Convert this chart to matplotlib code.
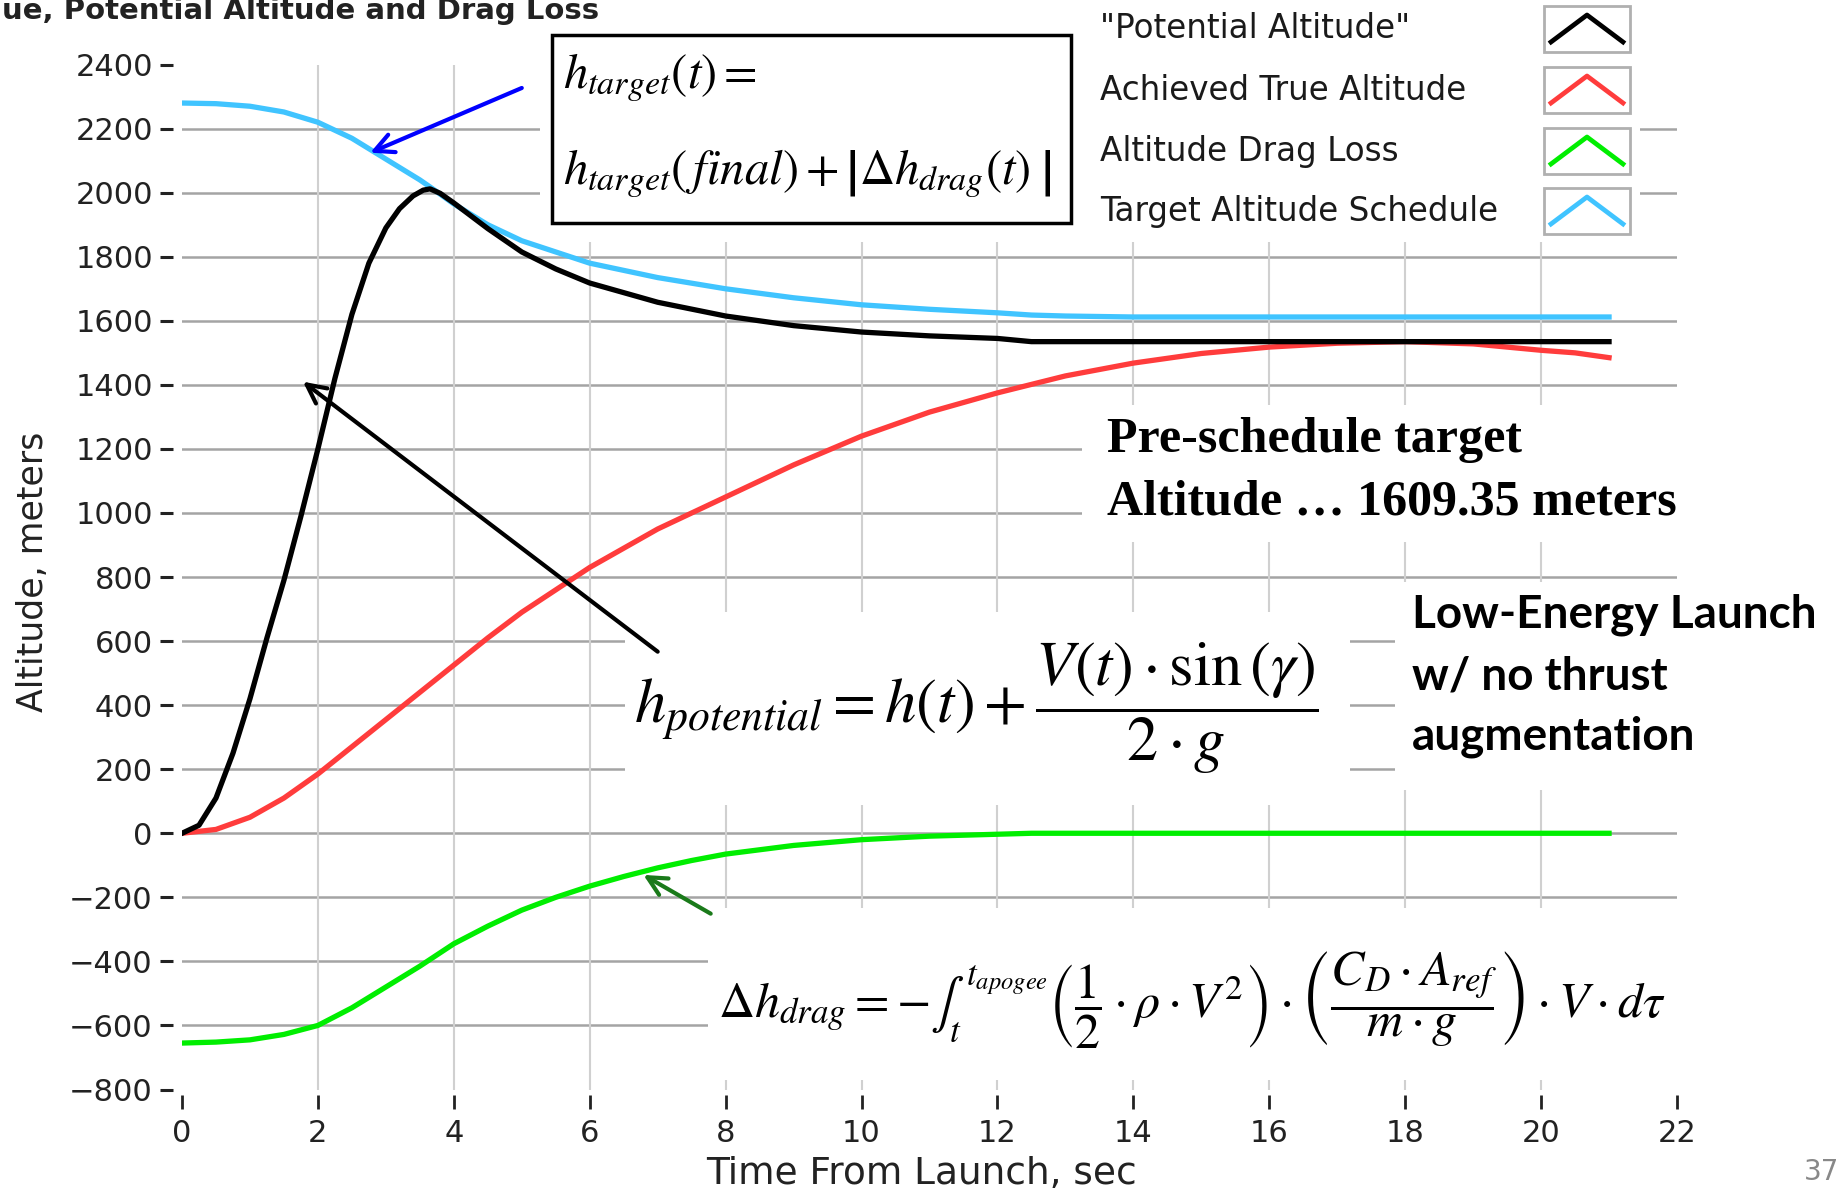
import matplotlib.pyplot as plt
from matplotlib.patches import Rectangle
from matplotlib.lines import Line2D

plt.rcParams['mathtext.fontset'] = 'stix'

W, H = 1841, 1194

# --- data (time in s, altitude in m) ---
t_potential = [0, 0.25, 0.5, 0.75, 1.0, 1.25, 1.5, 1.75, 2.0, 2.25, 2.5, 2.75, 3.0, 3.2,
               3.4, 3.55, 3.65, 3.8, 4.0, 4.5, 5.0, 5.5, 6.0, 7.0, 8.0, 9.0, 10.0, 11.0, 12.0,
               12.5, 14.0, 16.0, 18.0, 20.0, 21.0]
h_potential = [0, 25, 110, 250, 420, 610, 790, 990, 1200, 1420, 1620, 1780, 1890, 1950,
               1990, 2008, 2012, 1998, 1968, 1888, 1815, 1762, 1718, 1658, 1615, 1585, 1565,
               1553, 1545, 1535, 1535, 1535, 1535, 1535, 1535]

t_true = [0, 0.5, 1, 1.5, 2, 2.5, 3, 3.5, 4, 4.5, 5, 5.5, 6, 7, 8, 9, 10, 11, 12, 13, 14,
          15, 16, 17, 18, 19, 19.5, 20, 20.5, 21]
h_true = [0, 12, 50, 110, 185, 270, 355, 440, 525, 610, 690, 760, 830, 950, 1050, 1150, 1240,
          1315, 1375, 1428, 1468, 1498, 1518, 1530, 1535, 1528, 1518, 1508, 1500, 1485]

t_drag = [0, 0.5, 1, 1.5, 2, 2.5, 3, 3.5, 4, 4.5, 5, 5.5, 6, 6.5, 7, 7.5, 8, 9, 10, 11, 12,
          12.5, 21]
h_drag = [-655, -652, -645, -628, -600, -545, -480, -415, -345, -290, -240, -200, -165, -135,
          -108, -85, -65, -38, -20, -9, -3, 0, 0]

t_target = [0, 0.5, 1, 1.5, 2, 2.5, 3, 3.5, 3.65, 4, 4.5, 5, 5.5, 6, 7, 8, 9, 10, 11, 12,
            12.5, 13, 14, 21]
h_target = [2280, 2278, 2270, 2252, 2220, 2170, 2105, 2040, 2018, 1965, 1900, 1850, 1815, 1780,
            1735, 1700, 1672, 1650, 1636, 1625, 1618, 1615, 1612, 1612]

x_ticks = list(range(0, 23, 2))
y_ticks = list(range(-800, 2401, 200))

series_labels = ['"Potential Altitude"', 'Achieved True Altitude',
                 'Altitude Drag Loss', 'Target Altitude Schedule']
series_colors = ['black', '#ff3c3c', '#00ee00', '#40c4ff']


def fx(x):
    return x / W


def fy(y):
    return 1 - y / H


fig = plt.figure(figsize=(W / 100, H / 100), dpi=100)
ax = fig.add_axes([fx(182), fy(1089.5), 1495 / W, (1089.5 - 64.6) / H])
ax.set_xlim(0, 22)
ax.set_ylim(-800, 2400)
for s in ax.spines.values():
    s.set_visible(False)
ax.spines['left'].set_position(('outward', 6.5))
ax.spines['bottom'].set_position(('outward', 4))
ax.set_xticks(x_ticks)
ax.set_yticks(y_ticks)
ax.tick_params(axis='y', direction='out', length=9.5, width=2.2, pad=5,
               labelsize=22, colors='#222222')
ax.tick_params(axis='x', direction='out', length=10, width=2, pad=7,
               labelsize=22, colors='#222222')

# grid at the inner ticks only
for v in y_ticks[1:-1]:
    ax.axhline(v, color='#a4a4a4', lw=1.8, zorder=0.5)
for t in x_ticks[1:-1]:
    ax.axvline(t, color='#d0d0d0', lw=1.5, zorder=0.5)

# white patches of the slide that hide the grid
masks = [(540, 0, 1640, 242), (1082, 405, 1841, 542), (1395, 582, 1841, 790),
         (625, 612, 1350, 805), (708, 908, 1700, 1080)]
for x0, y0, x1, y1 in masks:
    ax.add_patch(Rectangle((fx(x0), fy(y1)), fx(x1) - fx(x0), fy(y0) - fy(y1),
                           transform=fig.transFigure, facecolor='white',
                           edgecolor='none', zorder=1, clip_on=False))

ax.plot(t_potential, h_potential, color=series_colors[0], lw=3.8, zorder=3)
ax.plot(t_true, h_true, color=series_colors[1], lw=3.8, zorder=2)
ax.plot(t_drag, h_drag, color=series_colors[2], lw=3.8, zorder=2)
ax.plot(t_target, h_target, color=series_colors[3], lw=3.8, zorder=2)

# arrows
arrow_kw = dict(arrowstyle='->', lw=3, mutation_scale=34, shrinkA=0, shrinkB=0)
ax.annotate('', xy=(2.77, 2125), xytext=(5.0, 2327),
            arrowprops=dict(color='#0000ff', **arrow_kw), annotation_clip=False, zorder=5)
ax.annotate('', xy=(1.78, 1410), xytext=(7.0, 567),
            arrowprops=dict(color='black', **arrow_kw), annotation_clip=False, zorder=5)
ax.annotate('', xy=(6.79, -130), xytext=(7.78, -251),
            arrowprops=dict(color='#1a7a1a', **arrow_kw), annotation_clip=False, zorder=5)

# title and axis labels
fig.text(0.001, fy(19), 'ue, Potential Altitude and Drag Loss', ha='left', va='baseline',
         fontsize=21, fontweight='bold', color='#222222')
fig.text(fx(922), fy(1174), 'Time From Launch, sec', ha='center', va='center',
         fontsize=27, color='#222222')
fig.text(fx(33), fy(572), 'Altitude, meters', ha='center', va='center', rotation=90,
         fontsize=25, color='#222222')
fig.text(fx(1839), fy(1172), '37', ha='right', va='center', fontsize=20, color='#888888')

# legend
rows_y = [29, 90, 151, 211]
for label, color, ry in zip(series_labels, series_colors, rows_y):
    fig.text(fx(1100), fy(ry), label, ha='left', va='center', fontsize=23.5, color='#1a1a1a')
    fig.add_artist(Rectangle((fx(1544), fy(ry + 23)), 86 / W, 46 / H,
                             transform=fig.transFigure, facecolor='white',
                             edgecolor='#b0b0b0', lw=2))
    fig.add_artist(Line2D([fx(1551), fx(1587), fx(1623)], [fy(ry + 13), fy(ry - 14), fy(ry + 13)],
                          transform=fig.transFigure, color=color, lw=3.4))

# equations and notes
fig.add_artist(Rectangle((fx(552), fy(223)), (1071 - 552) / W, (223 - 35) / H,
                         transform=fig.transFigure, facecolor='none',
                         edgecolor='black', lw=2.5))
fig.text(fx(563), fy(78), r'$h_{target}(t)=$', ha='left', va='center', fontsize=35)
fig.text(fx(563), fy(174), r'$h_{target}(\,final)+\left|\Delta h_{drag}(t)\;\right|$',
         ha='left', va='center', fontsize=35)

fig.text(fx(1107), fy(440), 'Pre-schedule target', ha='left', va='center',
         fontsize=36, fontweight='bold', family='Liberation Serif')
fig.text(fx(1107), fy(503), 'Altitude \u2026 1609.35 meters', ha='left', va='center',
         fontsize=36, fontweight='bold', family='Liberation Serif')

for txt, ry in zip(['Low-Energy Launch', 'w/ no thrust', 'augmentation'], [615, 677, 737]):
    fig.text(fx(1412), fy(ry), txt, ha='left', va='center', fontsize=33,
             fontweight='bold', family='Lato')

fig.text(fx(634), fy(708),
         r'$h_{potential}=h(t)+\dfrac{V(t)\cdot\sin\left(\gamma\right)}{2\cdot g}$',
         ha='left', va='center', fontsize=45)
fig.text(fx(718), fy(1000),
         r'$\Delta h_{drag}=-\int_{t}^{t_{apogee}}\left(\dfrac{1}{2}\cdot\rho\cdot V^2\right)'
         r'\cdot\left(\dfrac{C_D\cdot A_{ref}}{m\cdot g}\right)\cdot V\cdot d\tau$',
         ha='left', va='center', fontsize=36)

fig.savefig('out.png', dpi=100)
